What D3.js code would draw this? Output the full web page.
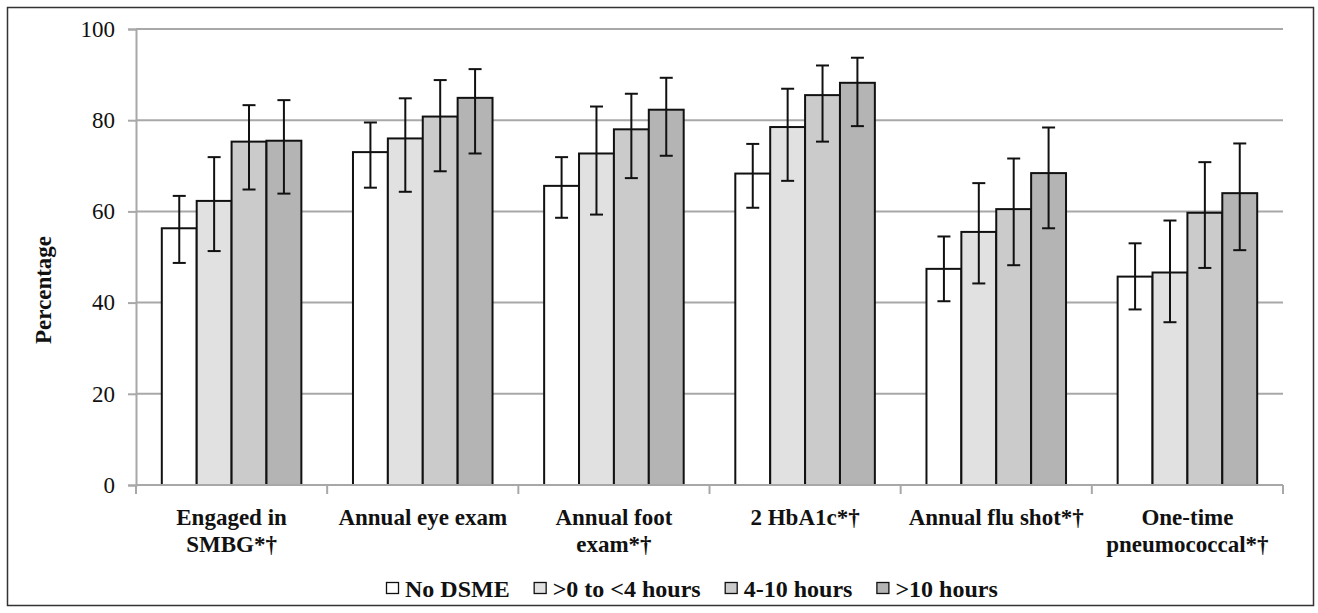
<!DOCTYPE html>
<html>
<head>
<meta charset="utf-8">
<script src="https://cdn.jsdelivr.net/npm/d3@7"></script>
<style>
  body { margin: 0; background: #fff; }
  svg text { font-family: "Liberation Serif", "Times New Roman", serif; }
</style>
</head>
<body>
<script>
// values
var categories = [["Engaged in", "SMBG*\u2020"], ["Annual eye exam"], ["Annual foot", "exam*\u2020"],
                  ["2 HbA1c*\u2020"], ["Annual flu shot*\u2020"], ["One-time", "pneumococcal*\u2020"]];
var seriesNames = ["No DSME", ">0 to <4 hours", "4-10 hours", ">10 hours"];
var seriesColors = ["#ffffff", "#e1e1e1", "#cbcbcb", "#b4b4b4"];

var noDsme      = [56.3, 73.0, 65.6, 68.3, 47.4, 45.7];
var noDsmeLo    = [48.7, 65.2, 58.6, 60.8, 40.3, 38.5];
var noDsmeHi    = [63.4, 79.5, 71.9, 74.8, 54.5, 53.0];
var under4      = [62.3, 76.0, 72.7, 78.5, 55.5, 46.6];
var under4Lo    = [51.3, 64.3, 59.3, 66.7, 44.2, 35.7];
var under4Hi    = [71.9, 84.8, 83.0, 86.9, 66.2, 58.0];
var four10      = [75.3, 80.8, 78.0, 85.5, 60.5, 59.7];
var four10Lo    = [64.8, 68.8, 67.3, 75.3, 48.2, 47.6];
var four10Hi    = [83.3, 88.8, 85.8, 92.0, 71.6, 70.8];
var over10      = [75.5, 84.9, 82.3, 88.2, 68.4, 64.0];
var over10Lo    = [63.9, 72.7, 72.2, 78.7, 56.3, 51.5];
var over10Hi    = [84.4, 91.2, 89.3, 93.7, 78.4, 74.9];
var yTicks = [0, 20, 40, 60, 80, 100];

var values = [noDsme, under4, four10, over10];
var lows = [noDsmeLo, under4Lo, four10Lo, over10Lo];
var highs = [noDsmeHi, under4Hi, four10Hi, over10Hi];

var width = 1318, height = 613;
var plotLeft = 136, plotRight = 1283, plotTop = 29, plotBottom = 485;

var svg = d3.select("body").append("svg")
  .attr("width", width).attr("height", height);

// outer frame
svg.append("rect")
  .attr("x", 7.5).attr("y", 7.5)
  .attr("width", 1306).attr("height", 598)
  .attr("fill", "none").attr("stroke", "#333").attr("stroke-width", 1.5);

var y = d3.scaleLinear().domain([0, 100]).range([plotBottom, plotTop]);
var keys = categories.map(function(c, i){ return i; });
var x0 = d3.scaleBand().domain(keys).range([plotLeft, plotRight]);
var gap = x0.bandwidth() * 0.135;
var x1 = d3.scaleBand().domain(d3.range(seriesNames.length))
  .range([gap, x0.bandwidth() - gap]);

// gridlines
svg.append("g").selectAll("line").data(yTicks.filter(function(t){ return t > 0; }))
  .enter().append("line")
  .attr("x1", plotLeft).attr("x2", plotRight)
  .attr("y1", function(d){ return y(d); }).attr("y2", function(d){ return y(d); })
  .attr("stroke", "#a8a8a8").attr("stroke-width", 2);

// y axis
var yAxis = svg.append("g").attr("transform", "translate(" + plotLeft + ",0)")
  .call(d3.axisLeft(y).tickValues(yTicks).tickSize(8).tickPadding(13));
yAxis.select(".domain").attr("stroke", "#a8a8a8").attr("stroke-width", 2);
yAxis.selectAll(".tick line").attr("stroke", "#a8a8a8").attr("stroke-width", 2);
yAxis.selectAll(".tick text")
  .style("font-family", "'Liberation Serif', serif")
  .style("font-size", "23px").attr("fill", "#111");

// bars
for (var s = 0; s < seriesNames.length; s++) {
  var g = svg.append("g");
  g.selectAll("rect").data(values[s]).enter().append("rect")
    .attr("x", function(d, i){ return x0(i) + x1(s); })
    .attr("y", function(d){ return y(d); })
    .attr("width", x1.bandwidth())
    .attr("height", function(d){ return y(0) - y(d); })
    .attr("fill", seriesColors[s])
    .attr("stroke", "#111").attr("stroke-width", 2);
}

// error bars
for (var s2 = 0; s2 < seriesNames.length; s2++) {
  (function(s){
    var eg = svg.append("g").attr("stroke", "#111").attr("stroke-width", 2);
    var cx = function(i){ return x0(i) + x1(s) + x1.bandwidth() / 2; };
    values[s].forEach(function(v, i){
      var lo = y(lows[s][i]), hi = y(highs[s][i]);
      eg.append("line").attr("x1", cx(i)).attr("x2", cx(i)).attr("y1", lo).attr("y2", hi);
      eg.append("line").attr("x1", cx(i) - 6.5).attr("x2", cx(i) + 6.5).attr("y1", lo).attr("y2", lo);
      eg.append("line").attr("x1", cx(i) - 6.5).attr("x2", cx(i) + 6.5).attr("y1", hi).attr("y2", hi);
    });
  })(s2);
}

// x axis line and category ticks
svg.append("line").attr("x1", plotLeft).attr("x2", plotRight)
  .attr("y1", plotBottom).attr("y2", plotBottom)
  .attr("stroke", "#a8a8a8").attr("stroke-width", 2);
var bounds = keys.map(function(i){ return x0(i); }).concat([plotRight]);
svg.append("g").selectAll("line").data(bounds).enter().append("line")
  .attr("x1", function(d){ return d; }).attr("x2", function(d){ return d; })
  .attr("y1", plotBottom).attr("y2", plotBottom + 9)
  .attr("stroke", "#a8a8a8").attr("stroke-width", 2);

// category labels
var labels = svg.append("g").selectAll("text").data(categories).enter().append("text")
  .attr("text-anchor", "middle")
  .attr("font-size", "23px").attr("font-weight", "bold").attr("fill", "#111");
labels.each(function(lines, i){
  var t = d3.select(this);
  lines.forEach(function(line, k){
    t.append("tspan")
      .attr("x", x0(i) + x0.bandwidth() / 2)
      .attr("y", 525 + k * 27)
      .text(line);
  });
});

// y title
svg.append("text")
  .attr("transform", "translate(51,290) rotate(-90)")
  .attr("text-anchor", "middle")
  .attr("font-size", "23px").attr("font-weight", "bold").attr("fill", "#111")
  .text("Percentage");

// legend
var legend = svg.append("g");
var lx = 386;
seriesNames.forEach(function(name, s){
  legend.append("rect")
    .attr("x", lx + 0.5).attr("y", 582.5)
    .attr("width", 12).attr("height", 11)
    .attr("fill", seriesColors[s]).attr("stroke", "#111").attr("stroke-width", 1.3);
  var t = legend.append("text")
    .attr("x", lx + 19).attr("y", 597)
    .attr("font-size", "24px").attr("font-weight", "bold").attr("fill", "#111")
    .text(name);
  lx += 19 + t.node().getComputedTextLength() + 24;
});
</script>
</body>
</html>
